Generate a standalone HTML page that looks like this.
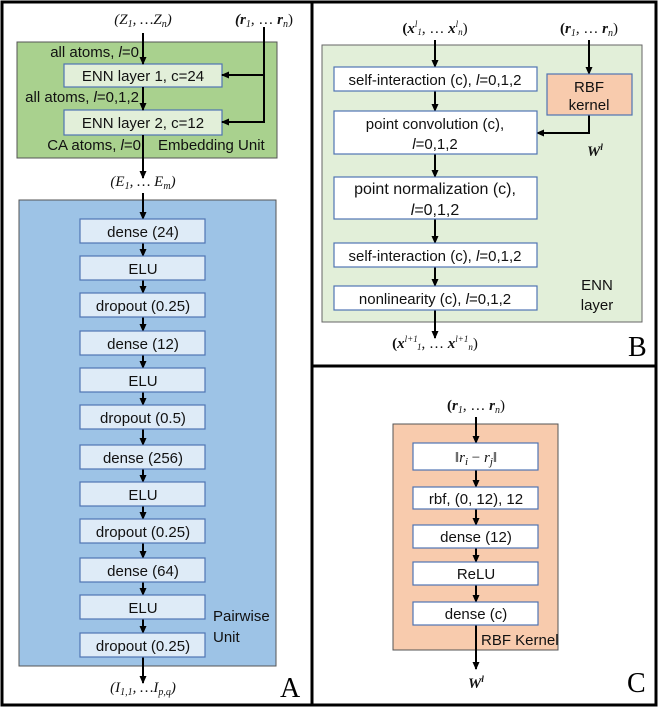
<!DOCTYPE html>
<html><head><meta charset="utf-8"><style>
body{margin:0;background:#fff}
svg{display:block}
.t{font-family:"Liberation Sans",sans-serif;font-size:15px;fill:#111}
.m{font-family:"Liberation Serif",serif;font-size:15px;fill:#111}
.mb{font-family:"Liberation Serif",serif;font-size:15px;fill:#111;font-weight:bold;font-style:italic}
</style></head><body>
<svg width="670" height="726" viewBox="0 0 670 726" xmlns="http://www.w3.org/2000/svg">
<defs><marker id="a" markerWidth="8" markerHeight="8" refX="7" refY="4" orient="auto" markerUnits="userSpaceOnUse"><path d="M0,0.5 L8,4 L0,7.5 z" fill="#000"/></marker></defs>
<rect x="2" y="2" width="654" height="703" fill="none" stroke="#000" stroke-width="3"/>
<line x1="312" y1="2" x2="312" y2="705" stroke="#000" stroke-width="3"/>
<line x1="312" y1="366" x2="656" y2="366" stroke="#000" stroke-width="3"/>

<!-- Panel A -->
<text class="m" x="143" y="24" text-anchor="middle" font-style="italic">(Z<tspan font-size="10" dy="3">1</tspan><tspan dy="-3">, …Z</tspan><tspan font-size="10" dy="3">n</tspan><tspan dy="-3">)</tspan></text>
<text class="m" x="264" y="24" text-anchor="middle"><tspan class="mb">(r</tspan><tspan font-size="10" dy="3" font-style="italic">1</tspan><tspan dy="-3">, … </tspan><tspan font-weight="bold" font-style="italic">r</tspan><tspan font-size="10" dy="3" font-style="italic">n</tspan><tspan dy="-3">)</tspan></text>
<rect x="17" y="42" width="260" height="116" fill="#a9d18e" stroke="#555" stroke-width="1"/>
<rect x="64" y="64" width="158" height="23" fill="#e2efd9" stroke="#4f74b3" stroke-width="1.2"/>
<rect x="64" y="110" width="158" height="25" fill="#e2efd9" stroke="#4f74b3" stroke-width="1.2"/>
<text class="t" x="143" y="81" text-anchor="middle">ENN layer 1, c=24</text>
<text class="t" x="143" y="128" text-anchor="middle">ENN layer 2, c=12</text>
<text class="t" x="139" y="57" text-anchor="end">all atoms, <tspan font-style="italic">l</tspan>=0</text>
<text class="t" x="139" y="102" text-anchor="end">all atoms, <tspan font-style="italic">l</tspan>=0,1,2</text>
<text class="t" x="141" y="150" text-anchor="end">CA atoms, <tspan font-style="italic">l</tspan>=0</text>
<text class="t" x="158" y="150">Embedding Unit</text>
<line x1="143" y1="33" x2="143" y2="64" stroke="#000" stroke-width="2" marker-end="url(#a)"/>
<line x1="143" y1="87" x2="143" y2="110" stroke="#000" stroke-width="2" marker-end="url(#a)"/>
<line x1="143" y1="135" x2="143" y2="178" stroke="#000" stroke-width="2" marker-end="url(#a)"/>
<polyline points="264,27 264,122 222,122" fill="none" stroke="#000" stroke-width="2" marker-end="url(#a)"/>
<line x1="264" y1="75" x2="222" y2="75" stroke="#000" stroke-width="2" marker-end="url(#a)"/>
<text class="m" x="143" y="186" text-anchor="middle" font-style="italic">(E<tspan font-size="10" dy="3">1</tspan><tspan dy="-3">, … E</tspan><tspan font-size="10" dy="3">m</tspan><tspan dy="-3">)</tspan></text>
<rect x="19" y="200" width="257" height="466" fill="#9dc3e6" stroke="#555" stroke-width="1"/>
<line x1="143" y1="193" x2="143" y2="219" stroke="#000" stroke-width="2" marker-end="url(#a)"/>
<g stroke="#000" stroke-width="2">
<line x1="143" y1="243" x2="143" y2="256" marker-end="url(#a)"/>
<line x1="143" y1="280" x2="143" y2="293" marker-end="url(#a)"/>
<line x1="143" y1="317" x2="143" y2="331" marker-end="url(#a)"/>
<line x1="143" y1="355" x2="143" y2="368" marker-end="url(#a)"/>
<line x1="143" y1="392" x2="143" y2="405" marker-end="url(#a)"/>
<line x1="143" y1="429" x2="143" y2="445" marker-end="url(#a)"/>
<line x1="143" y1="469" x2="143" y2="482" marker-end="url(#a)"/>
<line x1="143" y1="506" x2="143" y2="519" marker-end="url(#a)"/>
<line x1="143" y1="543" x2="143" y2="558" marker-end="url(#a)"/>
<line x1="143" y1="582" x2="143" y2="595" marker-end="url(#a)"/>
<line x1="143" y1="619" x2="143" y2="633" marker-end="url(#a)"/>
<line x1="143" y1="657" x2="143" y2="683" marker-end="url(#a)"/>
</g>
<g fill="#deebf7" stroke="#4f74b3" stroke-width="1.2">
<rect x="80" y="219" width="125" height="24"/><rect x="80" y="256" width="125" height="24"/>
<rect x="80" y="293" width="125" height="24"/><rect x="80" y="331" width="125" height="24"/>
<rect x="80" y="368" width="125" height="24"/><rect x="80" y="405" width="125" height="24"/>
<rect x="80" y="445" width="125" height="24"/><rect x="80" y="482" width="125" height="24"/>
<rect x="80" y="519" width="125" height="24"/><rect x="80" y="558" width="125" height="24"/>
<rect x="80" y="595" width="125" height="24"/><rect x="80" y="633" width="125" height="24"/>
</g>
<g class="t" text-anchor="middle">
<text x="143" y="237">dense (24)</text><text x="143" y="274">ELU</text>
<text x="143" y="311">dropout (0.25)</text><text x="143" y="349">dense (12)</text>
<text x="143" y="386">ELU</text><text x="143" y="423">dropout (0.5)</text>
<text x="143" y="463">dense (256)</text><text x="143" y="500">ELU</text>
<text x="143" y="537">dropout (0.25)</text><text x="143" y="576">dense (64)</text>
<text x="143" y="613">ELU</text><text x="143" y="651">dropout (0.25)</text>
</g>
<text class="t" x="213" y="621">Pairwise</text>
<text class="t" x="213" y="642">Unit</text>
<text class="m" x="143" y="692" text-anchor="middle" font-style="italic">(I<tspan font-size="10" dy="3">1,1</tspan><tspan dy="-3">, …I</tspan><tspan font-size="10" dy="3">p,q</tspan><tspan dy="-3">)</tspan></text>
<text x="280" y="697" font-family="Liberation Serif,serif" font-size="28">A</text>

<!-- Panel B -->
<text class="m" x="435" y="33" text-anchor="middle"><tspan font-weight="bold">(</tspan><tspan font-weight="bold" font-style="italic">x</tspan><tspan font-size="9" dy="-6" font-style="italic">l</tspan><tspan font-size="9" dy="8" font-style="italic">1</tspan><tspan dy="-2">, … </tspan><tspan font-weight="bold" font-style="italic">x</tspan><tspan font-size="9" dy="-6" font-style="italic">l</tspan><tspan font-size="9" dy="8" font-style="italic">n</tspan><tspan dy="-2">)</tspan></text>
<text class="m" x="589" y="33" text-anchor="middle"><tspan font-weight="bold">(</tspan><tspan font-weight="bold" font-style="italic">r</tspan><tspan font-size="10" dy="3" font-style="italic">1</tspan><tspan dy="-3">, … </tspan><tspan font-weight="bold" font-style="italic">r</tspan><tspan font-size="10" dy="3" font-style="italic">n</tspan><tspan dy="-3">)</tspan></text>
<rect x="322" y="45" width="320" height="277" fill="#e2efd9" stroke="#666" stroke-width="1"/>
<g stroke="#000" stroke-width="2">
<line x1="435" y1="40" x2="435" y2="67" marker-end="url(#a)"/>
<line x1="435" y1="91" x2="435" y2="111" marker-end="url(#a)"/>
<line x1="435" y1="154" x2="435" y2="177" marker-end="url(#a)"/>
<line x1="435" y1="219" x2="435" y2="243" marker-end="url(#a)"/>
<line x1="435" y1="267" x2="435" y2="286" marker-end="url(#a)"/>
<line x1="435" y1="310" x2="435" y2="338" marker-end="url(#a)"/>
<line x1="589" y1="40" x2="589" y2="74" marker-end="url(#a)"/>
<polyline points="589,115 589,133 537,133" fill="none" marker-end="url(#a)"/>
</g>
<g fill="#fff" stroke="#4f74b3" stroke-width="1.2">
<rect x="334" y="67" width="203" height="24"/><rect x="334" y="111" width="203" height="43"/>
<rect x="334" y="177" width="203" height="42"/><rect x="334" y="243" width="203" height="24"/>
<rect x="334" y="286" width="203" height="24"/>
</g>
<rect x="547" y="74" width="85" height="41" fill="#f8cbad" stroke="#4f74b3" stroke-width="1.2"/>
<g class="t" text-anchor="middle">
<text x="435" y="85">self-interaction (c), <tspan font-style="italic">l</tspan>=0,1,2</text>
<text x="435" y="129">point convolution (c),</text>
<text x="435" y="149"><tspan font-style="italic">l</tspan>=0,1,2</text>
<text x="435" y="194" font-size="16">point normalization (c),</text>
<text x="435" y="215" font-size="16"><tspan font-style="italic">l</tspan>=0,1,2</text>
<text x="435" y="261">self-interaction (c), <tspan font-style="italic">l</tspan>=0,1,2</text>
<text x="435" y="304">nonlinearity (c), <tspan font-style="italic">l</tspan>=0,1,2</text>
<text x="589" y="92">RBF</text><text x="589" y="110">kernel</text>
<text x="597" y="290">ENN</text><text x="597" y="310">layer</text>
</g>
<text class="mb" x="587" y="156">W<tspan font-size="9" dy="-6">l</tspan></text>
<text class="m" x="435" y="348" text-anchor="middle"><tspan font-weight="bold">(</tspan><tspan font-weight="bold" font-style="italic">x</tspan><tspan font-size="9" dy="-6" font-style="italic">l+1</tspan><tspan font-size="9" dy="8" font-style="italic">1</tspan><tspan dy="-2">, … </tspan><tspan font-weight="bold" font-style="italic">x</tspan><tspan font-size="9" dy="-6" font-style="italic">l+1</tspan><tspan font-size="9" dy="8" font-style="italic">n</tspan><tspan dy="-2">)</tspan></text>
<text x="628" y="356" font-family="Liberation Serif,serif" font-size="28">B</text>

<!-- Panel C -->
<text class="m" x="476" y="410" text-anchor="middle"><tspan font-weight="bold">(</tspan><tspan font-weight="bold" font-style="italic">r</tspan><tspan font-size="10" dy="3" font-style="italic">1</tspan><tspan dy="-3">, … </tspan><tspan font-weight="bold" font-style="italic">r</tspan><tspan font-size="10" dy="3" font-style="italic">n</tspan><tspan dy="-3">)</tspan></text>
<rect x="393" y="424" width="165" height="226" fill="#f8cbad" stroke="#555" stroke-width="1"/>
<g stroke="#000" stroke-width="2">
<line x1="476" y1="417" x2="476" y2="443" marker-end="url(#a)"/>
<line x1="476" y1="470" x2="476" y2="487" marker-end="url(#a)"/>
<line x1="476" y1="509" x2="476" y2="525" marker-end="url(#a)"/>
<line x1="476" y1="548" x2="476" y2="562" marker-end="url(#a)"/>
<line x1="476" y1="585" x2="476" y2="602" marker-end="url(#a)"/>
<line x1="476" y1="625" x2="476" y2="669" marker-end="url(#a)"/>
</g>
<g fill="#fff" stroke="#4f74b3" stroke-width="1.2">
<rect x="413" y="443" width="125" height="27"/><rect x="413" y="487" width="125" height="22"/>
<rect x="413" y="525" width="125" height="23"/><rect x="413" y="562" width="125" height="23"/>
<rect x="413" y="602" width="125" height="23"/>
</g>
<text class="m" x="476" y="462" text-anchor="middle" font-size="17">‖<tspan font-style="italic">r</tspan><tspan font-size="11" dy="3" font-style="italic">i</tspan><tspan dy="-3"> − </tspan><tspan font-style="italic">r</tspan><tspan font-size="11" dy="3" font-style="italic">j</tspan><tspan dy="-3">‖</tspan></text>
<g class="t" text-anchor="middle">
<text x="476" y="504">rbf, (0, 12), 12</text>
<text x="476" y="542">dense (12)</text>
<text x="476" y="579">ReLU</text>
<text x="476" y="619">dense (c)</text>
</g>
<text class="t" x="481" y="645">RBF Kernel</text>
<text class="mb" x="468" y="688">W<tspan font-size="9" dy="-6">l</tspan></text>
<text x="627" y="692" font-family="Liberation Serif,serif" font-size="28">C</text>
</svg>
</body></html>
